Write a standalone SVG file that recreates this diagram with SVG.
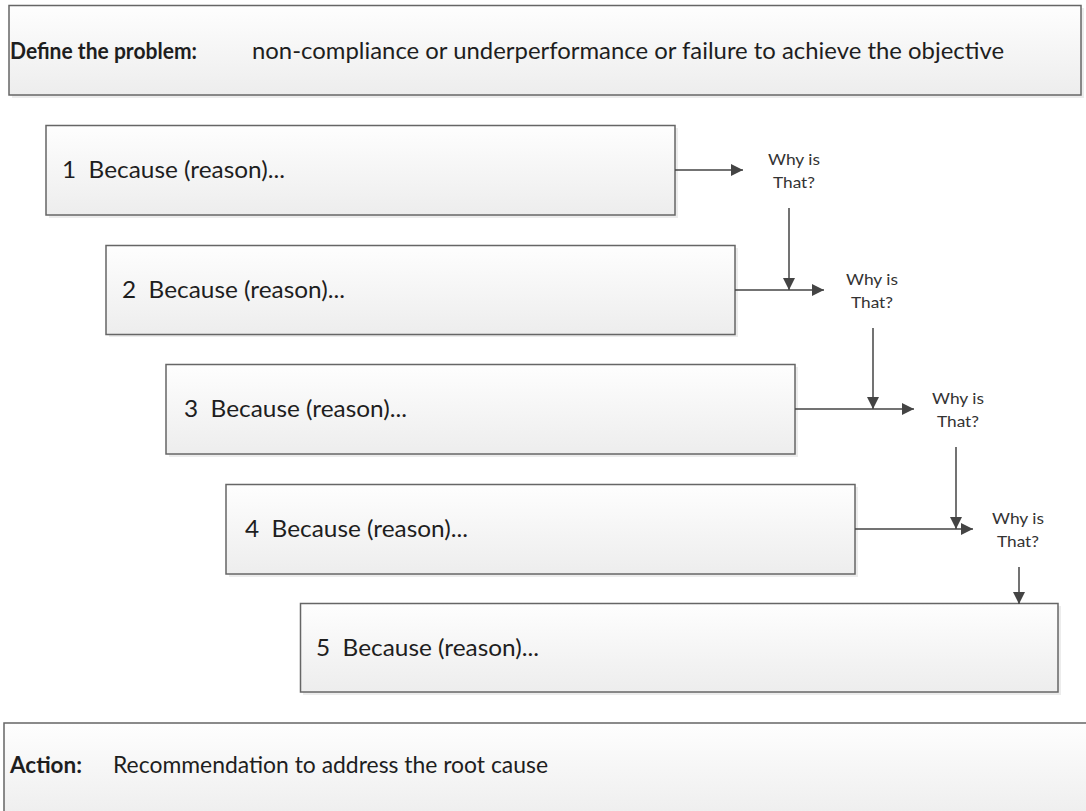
<svg xmlns="http://www.w3.org/2000/svg" width="1086" height="811" viewBox="0 0 1086 811">
  <style>
    .box { fill: url(#boxFill); stroke: #666666; stroke-width: 1.5; }
    .shadow { fill: #ececec; }
    .label { font-family: Lato, "Open Sans", "Liberation Sans", sans-serif; font-size: 23px; fill: #1e1e1e; white-space: pre; }
    .bold { font-weight: bold; }
    .why { font-family: Lato, "Open Sans", "Liberation Sans", sans-serif; font-size: 16px; fill: #333333; text-anchor: middle; }
    .link { stroke: #444444; stroke-width: 1.5; fill: none; marker-end: url(#head); }
  </style>
  <defs>
    <linearGradient id="boxFill" x1="0" y1="0" x2="0" y2="1">
      <stop offset="0" stop-color="#fefefe"/>
      <stop offset="1" stop-color="#ededed"/>
    </linearGradient>
    <marker id="head" viewBox="0 0 12 12" refX="12" refY="6" markerWidth="12" markerHeight="12" markerUnits="userSpaceOnUse" orient="auto">
      <path d="M0,0 L12,6 L0,12 Z" fill="#444444"/>
    </marker>
  </defs>
  <rect width="1086" height="811" fill="#ffffff"/>

  <!-- problem statement -->
  <g id="problem">
    <rect class="shadow" x="12" y="8" width="1072" height="90"/>
    <rect class="box" x="9" y="5.5" width="1072" height="89.5"/>
    <text class="label bold" x="10" y="59" textLength="187" lengthAdjust="spacingAndGlyphs">Define the problem:</text>
    <text class="label" x="252" y="59" textLength="752" lengthAdjust="spacingAndGlyphs">non-compliance or underperformance or failure to achieve the objective</text>
  </g>

  <g id="reason1">
    <rect class="shadow" x="49" y="128" width="629" height="90"/>
    <rect class="box" x="46" y="125.5" width="629" height="89.5"/>
    <text class="label" x="62" y="178" textLength="223" lengthAdjust="spacingAndGlyphs" xml:space="preserve">1  Because (reason)...</text>
  </g>
  <g id="reason2">
    <rect class="shadow" x="109" y="248" width="629" height="89"/>
    <rect class="box" x="106" y="245.5" width="629" height="89"/>
    <text class="label" x="122" y="298" textLength="223" lengthAdjust="spacingAndGlyphs" xml:space="preserve">2  Because (reason)...</text>
  </g>
  <g id="reason3">
    <rect class="shadow" x="169" y="367" width="629" height="90"/>
    <rect class="box" x="166" y="364.5" width="629" height="89.5"/>
    <text class="label" x="184" y="417" textLength="223" lengthAdjust="spacingAndGlyphs" xml:space="preserve">3  Because (reason)...</text>
  </g>
  <g id="reason4">
    <rect class="shadow" x="229" y="487" width="629" height="90"/>
    <rect class="box" x="226" y="484.5" width="629" height="89.5"/>
    <text class="label" x="245" y="537" textLength="223" lengthAdjust="spacingAndGlyphs" xml:space="preserve">4  Because (reason)...</text>
  </g>
  <g id="reason5">
    <rect class="shadow" x="303" y="606" width="758" height="89"/>
    <rect class="box" x="300.5" y="603.5" width="757.5" height="88.5"/>
    <text class="label" x="316" y="656" textLength="223" lengthAdjust="spacingAndGlyphs" xml:space="preserve">5  Because (reason)...</text>
  </g>

  <!-- recommended action -->
  <g id="action">
    <rect class="shadow" x="7" y="726" width="1100" height="100"/>
    <rect class="box" x="4" y="723" width="1100" height="100"/>
    <text class="label bold" x="10" y="773" textLength="72" lengthAdjust="spacingAndGlyphs">Action:</text>
    <text class="label" x="113" y="773" textLength="435" lengthAdjust="spacingAndGlyphs">Recommendation to address the root cause</text>
  </g>

  <!-- question labels -->
  <g id="why1">
    <text class="why" x="794" y="165" textLength="52" lengthAdjust="spacingAndGlyphs">Why is</text>
    <text class="why" x="794" y="188" textLength="42" lengthAdjust="spacingAndGlyphs">That?</text>
  </g>
  <g id="why2">
    <text class="why" x="872" y="285" textLength="52" lengthAdjust="spacingAndGlyphs">Why is</text>
    <text class="why" x="872" y="308" textLength="42" lengthAdjust="spacingAndGlyphs">That?</text>
  </g>
  <g id="why3">
    <text class="why" x="958" y="404" textLength="52" lengthAdjust="spacingAndGlyphs">Why is</text>
    <text class="why" x="958" y="427" textLength="42" lengthAdjust="spacingAndGlyphs">That?</text>
  </g>
  <g id="why4">
    <text class="why" x="1018" y="524" textLength="52" lengthAdjust="spacingAndGlyphs">Why is</text>
    <text class="why" x="1018" y="547" textLength="42" lengthAdjust="spacingAndGlyphs">That?</text>
  </g>

  <g id="connectors">
    <line class="link" x1="675" y1="170" x2="743" y2="170"/>
    <line class="link" x1="789" y1="208" x2="789" y2="290"/>
    <line class="link" x1="735" y1="290" x2="824" y2="290"/>
    <line class="link" x1="873" y1="328" x2="873" y2="409"/>
    <line class="link" x1="795" y1="409" x2="914" y2="409"/>
    <line class="link" x1="956" y1="447" x2="956" y2="529"/>
    <line class="link" x1="855" y1="529" x2="973" y2="529"/>
    <line class="link" x1="1019" y1="567" x2="1019" y2="604"/>
  </g>
</svg>
